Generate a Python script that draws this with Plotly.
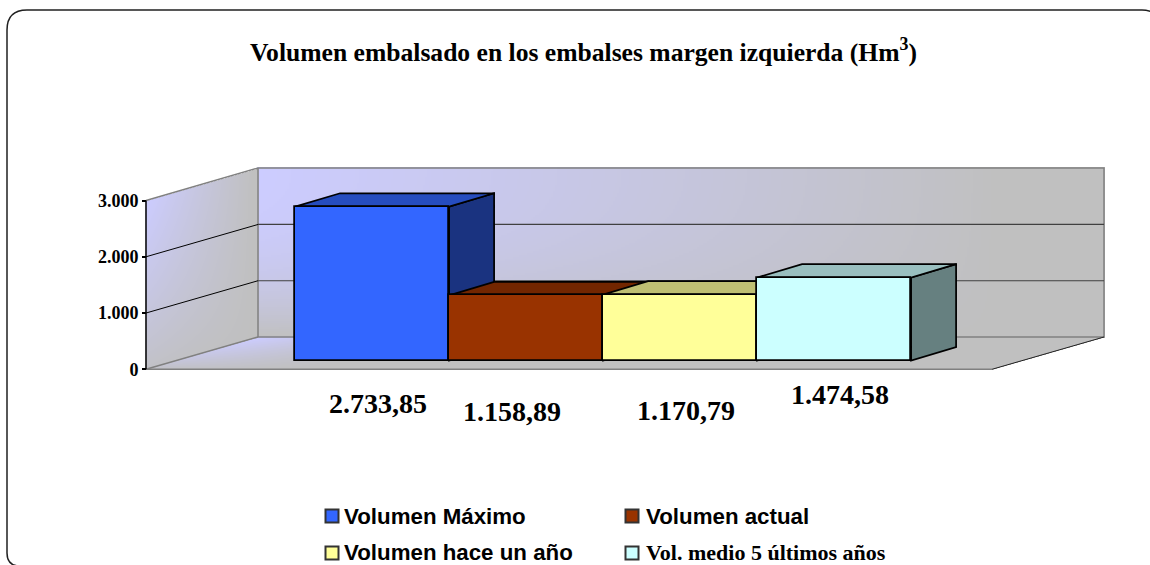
import numpy as np
import plotly.graph_objects as go

# ---- data ----
categories = ["Volumen Máximo", "Volumen actual", "Volumen hace un año", "Vol. medio 5 últimos años"]
values = [2733.85, 1158.89, 1170.79, 1474.58]
value_labels = ["2.733,85", "1.158,89", "1.170,79", "1.474,58"]
tick_values = [0, 1000, 2000, 3000]
tick_labels = ["0", "1.000", "2.000", "3.000"]
title = "Volumen embalsado en los embalses margen izquierda (Hm<sup>3</sup>)"

# ---- style ----
front_colors = ["#3366FF", "#993300", "#FFFF99", "#CCFFFF"]
top_colors = ["#264DBF", "#732600", "#BFBF73", "#99BFBF"]
side_colors = ["#1A3380", "#4D1A00", "#80804D", "#668080"]
label_x = [378, 512, 686, 840]
label_py = [403, 411, 410, 394]
legend_x = [332, 632, 332, 632]
legend_text_x = [344, 646, 344, 646]
legend_py = [516, 516, 553, 553]
legend_text_py = [516, 516, 552, 552]
legend_fonts = ["Liberation Sans", "Liberation Sans", "Liberation Sans", "Liberation Serif"]
legend_sizes = [22.3, 22.3, 22.3, 22]

W, H = 1150, 565
PY0 = 369.3
UNITS_PER_PX = 3000 / 168.8


def val(py):
    return (PY0 - py) * UNITS_PER_PX


DX, DY = 112, 32.3          # wall depth in px
BAR_LEFT, BAR_W = 295.1, 154
BAR_BASE = val(360.5)
BAR_DX, BAR_DY = 45, 13.4 * UNITS_PER_PX
X_L, X_R = 146, 992

fig = go.Figure()


# gradient surfaces -----------------------------------------------------------
GRAY = "rgb(192,192,192)"
LAV = "rgb(204,204,255)"
CS = [[0, GRAY], [1, LAV]]


def add_surface(xs, pys, tfunc):
    X, PY = np.meshgrid(xs, pys)
    z = tfunc(X, PY)
    z = np.where(np.isnan(z), None, np.round(z, 3))
    fig.add_trace(go.Heatmap(x=xs, y=val(pys), z=z.tolist(), zmin=0, zmax=1, colorscale=CS,
                             showscale=False, hoverinfo="skip", xaxis="x", yaxis="y"))


# back wall
def back(X, PY):
    u = (X - (X_L + DX)) / (X_R + DX - X_L - DX)
    v = (PY - 168) / 169
    return np.clip(1 - u * 1.15, 0, 1) ** 0.9 * np.clip(1 - v ** 2.5, 0, 1)


add_surface(np.arange(258, 1105.5, 2.0), np.arange(168, 337.5, 2.0), back)


# left wall
def left(X, PY):
    u = (X - X_L) / DX
    top = 200.5 - u * DY
    v = (PY - top) / 169
    t = np.clip(1 - u * 1.05, 0, 1) * np.clip(1 - v * 0.95, 0, 1) ** 0.8
    return np.where((v < 0) | (v > 1), np.nan, t)


add_surface(np.arange(146, 258.5, 1.0), np.arange(168, 369.5, 1.0), left)


# floor
def floor(X, PY):
    v = (PY - 337) / 32.3
    x_left = X_L + DX * (1 - v)
    x_right = X_R + DX * (1 - v)
    u = (X - x_left) / (x_right - x_left)
    t = np.clip(1 - u * 5, 0, 1) * np.clip(1 - v, 0, 1) ** 0.7
    return np.where((u < 0) | (u > 1), np.nan, t)


add_surface(np.arange(146, 1105.5, 1.0), np.arange(337, 369.5, 1.0), floor)


def line(xs, ys, color, width):
    fig.add_trace(go.Scatter(x=xs, y=ys, mode="lines", line=dict(color=color, width=width),
                             hoverinfo="skip", showlegend=False, xaxis="x", yaxis="y"))


# walls' edges
back_bottom = val(337)
back_top = val(168)
line([X_L, X_L + DX, X_R + DX, X_R + DX, X_L + DX, X_L + DX], [3000, back_top, back_top, back_bottom, back_bottom, back_top], "#808080", 1.5)
line([X_L, X_L + DX], [0, back_bottom], "#808080", 1.5)
line([X_L, X_R], [0, 0], "#808080", 1.5)
line([X_R, X_R + DX], [0, back_bottom], "#202020", 1)

# gridlines
for t in tick_values[1:3]:
    yb = t + val(337)
    line([X_L, X_L + DX], [t, yb], "#000000", 1)
    line([X_L + DX, X_R + DX], [yb, yb], "#404040", 1.2)

# vertical axis line
line([X_L, X_L], [0, 3000], "#000000", 1.5)

# bar tops and sides
for i, v in enumerate(values):
    x0 = BAR_LEFT + i * BAR_W
    x1 = x0 + BAR_W
    ytop = BAR_BASE + v
    fig.add_trace(go.Scatter(x=[x1, x1 + BAR_DX, x1 + BAR_DX, x1, x1],
                             y=[ytop, ytop + BAR_DY, BAR_BASE + BAR_DY, BAR_BASE, ytop],
                             mode="lines", fill="toself", fillcolor=side_colors[i],
                             line=dict(color="#000000", width=1.75), hoverinfo="skip",
                             showlegend=False, xaxis="x", yaxis="y"))
    fig.add_trace(go.Scatter(x=[x0, x0 + BAR_DX, x1 + BAR_DX, x1, x0],
                             y=[ytop, ytop + BAR_DY, ytop + BAR_DY, ytop, ytop],
                             mode="lines", fill="toself", fillcolor=top_colors[i],
                             line=dict(color="#000000", width=1.75), hoverinfo="skip",
                             showlegend=False, xaxis="x", yaxis="y"))

# bar fronts (overlay axes, drawn on top)
fig.add_trace(go.Bar(x=[BAR_LEFT + BAR_W * (i + 0.5) for i in range(len(values))], y=values,
                     base=BAR_BASE, width=BAR_W, marker=dict(color=front_colors, line=dict(color="#000000", width=1.75)),
                     hovertext=categories, hoverinfo="text+y", showlegend=False, xaxis="x2", yaxis="y2"))

# legend
for i, c in enumerate(categories):
    fig.add_trace(go.Scatter(x=[legend_x[i]], y=[val(legend_py[i])], mode="markers",
                             marker=dict(symbol="square", size=13, color=front_colors[i], line=dict(color="#333333", width=2)),
                             cliponaxis=False, showlegend=False, hoverinfo="skip", xaxis="x2", yaxis="y2"))
    fig.add_annotation(x=legend_text_x[i], y=val(legend_text_py[i]), xref="x2", yref="y2", text=c, showarrow=False,
                       xanchor="left", xshift=-2,
                       font=dict(family=legend_fonts[i], size=legend_sizes[i], color="#000000", weight="bold"))

# value labels
for i, t in enumerate(value_labels):
    fig.add_annotation(x=label_x[i], y=val(label_py[i]), xref="x2", yref="y2", text=t, showarrow=False,
                       font=dict(family="Liberation Serif", size=28, color="#000000", weight="bold"))

yrange = [val(H), val(0)]
fig.update_layout(
    width=W, height=H, margin=dict(l=0, r=0, t=0, b=0), paper_bgcolor="#FFFFFF", plot_bgcolor="rgba(0,0,0,0)",
    showlegend=False, bargap=0,
    title=dict(text=title, x=583.5 / W, xanchor="center", y=1 - 52 / H, yanchor="middle",
               font=dict(family="Liberation Serif", size=25.6, color="#000000", weight="bold")),
    xaxis=dict(range=[0, W], domain=[0, 1], visible=False, fixedrange=True),
    yaxis=dict(range=yrange, domain=[0, 1], anchor="free", position=X_L / W, showgrid=False, zeroline=False, showline=False,
               tickmode="array", tickvals=tick_values, ticktext=tick_labels, ticks="outside", ticklen=4, tickwidth=1.5,
               tickcolor="#000000", tickfont=dict(family="Liberation Serif", size=18, color="#000000", weight="bold"),
               fixedrange=True),
    xaxis2=dict(range=[0, W], domain=[0, 1], overlaying="x", visible=False, fixedrange=True, anchor="y2"),
    yaxis2=dict(range=yrange, domain=[0, 1], overlaying="y", visible=False, fixedrange=True, anchor="x2"),
    shapes=[dict(type="path", xref="paper", yref="paper", layer="above",
                 path=" ".join([f"M {20 / W} {1 - 566 / H} Q {7 / W} {1 - 566 / H} {7 / W} {1 - 553 / H} L {7 / W} {1 - 30 / H}",
                                f"Q {7 / W} {1 - 10 / H} {27 / W} {1 - 10 / H}",
                                f"L {1142 / W} {1 - 10 / H} Q {1149 / W} {1 - 10 / H} {1156 / W} {1 - 14 / H}"]),
                 line=dict(color="#202020", width=1.5))],
)

fig.write_html("out.html", config=dict(displayModeBar=False),
               post_script="document.body.style.margin='0';document.body.style.overflow='hidden';")
